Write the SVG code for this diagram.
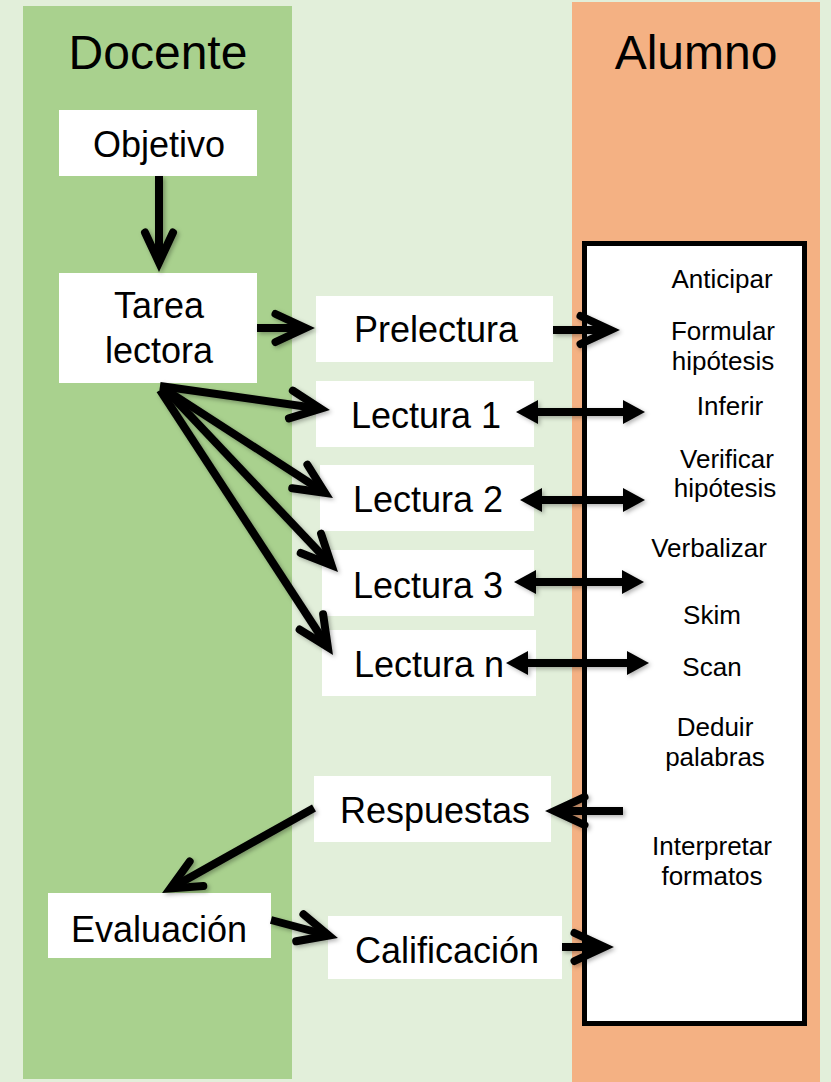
<svg xmlns="http://www.w3.org/2000/svg" width="831" height="1082" viewBox="0 0 831 1082">
<style>
text{font-family:"Liberation Sans",Arial,sans-serif;fill:#000}
.t36{font-size:36px}
.t48{font-size:48px}
.t26{font-size:26px}
.mid{text-anchor:middle}
.node{fill:#fff}
.ln{stroke:#000;stroke-width:8;fill:none}
.ch{marker-end:url(#chev)}
.dbl{marker-start:url(#tri);marker-end:url(#tri)}
</style>
<defs>
<marker id="chev" markerUnits="userSpaceOnUse" orient="auto" refX="0" refY="0" markerWidth="80" markerHeight="80" overflow="visible">
<path d="M-30,-14 L0,0 L-30,14" fill="none" stroke="#000" stroke-width="8" stroke-linejoin="miter" stroke-linecap="round"/>
</marker>
<marker id="tri" markerUnits="userSpaceOnUse" orient="auto-start-reverse" refX="0" refY="0" markerWidth="80" markerHeight="80" overflow="visible">
<path d="M22,0 L0,-12 L0,12 Z" fill="#000"/>
</marker>
<filter id="sh" x="-20%" y="-20%" width="140%" height="140%">
<feDropShadow dx="2" dy="2" stdDeviation="2" flood-color="#000" flood-opacity="0.3"/>
</filter>
</defs>
<rect x="0" y="0" width="831" height="1082" fill="#E2EFDA"/>
<g id="docente-col">
<rect x="23" y="6" width="269" height="1073" fill="#A9D18E"/>
<text class="t48 mid" x="158" y="69">Docente</text>
</g>
<g id="alumno-col">
<rect x="572" y="2" width="248" height="1080" fill="#F4B183"/>
<text class="t48 mid" x="696" y="69">Alumno</text>
</g>
<g id="estrategias">
<rect x="584.5" y="243.5" width="220" height="780" fill="#fff" stroke="#000" stroke-width="5"/>
<text class="t26 mid" x="722" y="288">Anticipar</text>
<text class="t26 mid" x="723" y="340">Formular</text>
<text class="t26 mid" x="723" y="370">hipótesis</text>
<text class="t26 mid" x="730" y="415">Inferir</text>
<text class="t26 mid" x="727" y="468">Verificar</text>
<text class="t26 mid" x="725" y="497">hipótesis</text>
<text class="t26 mid" x="709" y="557">Verbalizar</text>
<text class="t26 mid" x="712" y="624">Skim</text>
<text class="t26 mid" x="712" y="676">Scan</text>
<text class="t26 mid" x="715" y="736">Deduir</text>
<text class="t26 mid" x="715" y="766">palabras</text>
<text class="t26 mid" x="712" y="855">Interpretar</text>
<text class="t26 mid" x="712" y="885">formatos</text>
</g>
<g id="objetivo">
<rect class="node" x="59" y="110" width="198" height="66"/>
<text class="t36 mid" x="159" y="157">Objetivo</text>
</g>
<g id="tarea">
<rect class="node" x="59" y="273" width="198" height="110"/>
<text class="t36 mid" x="159" y="318">Tarea</text>
<text class="t36 mid" x="159" y="363">lectora</text>
</g>
<g id="prelectura">
<rect class="node" x="316" y="296" width="237" height="66"/>
<text class="t36 mid" x="436" y="342">Prelectura</text>
</g>
<g id="lectura1">
<rect class="node" x="316" y="381" width="218" height="66"/>
<text class="t36" x="351" y="428">Lectura 1</text>
</g>
<g id="lectura2">
<rect class="node" x="320" y="465" width="214" height="66"/>
<text class="t36" x="353" y="512">Lectura 2</text>
</g>
<g id="lectura3">
<rect class="node" x="322" y="550" width="212" height="66"/>
<text class="t36" x="353" y="598">Lectura 3</text>
</g>
<g id="lecturan">
<rect class="node" x="322" y="630" width="214" height="66"/>
<text class="t36" x="354" y="677">Lectura n</text>
</g>
<g id="respuestas">
<rect class="node" x="314" y="776" width="237" height="66"/>
<text class="t36 mid" x="435" y="823">Respuestas</text>
</g>
<g id="evaluacion">
<rect class="node" x="48" y="893" width="223" height="65"/>
<text class="t36 mid" x="159" y="942">Evaluación</text>
</g>
<g id="calificacion">
<rect class="node" x="328" y="916" width="234" height="63"/>
<text class="t36 mid" x="447" y="963">Calificación</text>
</g>
<g id="connectors" filter="url(#sh)">
<line class="ln ch" x1="159" y1="176" x2="159" y2="262.5"/>
<line class="ln ch" x1="257" y1="328" x2="305.5" y2="328"/>
<line class="ln ch" x1="553" y1="330" x2="610.5" y2="330"/>
<line class="ln ch" x1="160" y1="386" x2="320.6" y2="408.7"/>
<line class="ln ch" x1="163" y1="388" x2="325" y2="492.8"/>
<line class="ln ch" x1="166" y1="390" x2="331.5" y2="565.1"/>
<line class="ln ch" x1="160" y1="390" x2="327.8" y2="647"/>
<line class="ln dbl" x1="538" y1="412" x2="623" y2="412"/>
<line class="ln dbl" x1="542" y1="500" x2="623" y2="500"/>
<line class="ln dbl" x1="536" y1="582" x2="622" y2="582"/>
<line class="ln dbl" x1="528" y1="663" x2="627" y2="663"/>
<line class="ln ch" x1="623" y1="811" x2="554.5" y2="811"/>
<line class="ln ch" x1="314" y1="808" x2="170.3" y2="888.4"/>
<line class="ln ch" x1="271" y1="920" x2="328.8" y2="935.5"/>
<line class="ln ch" x1="562" y1="947" x2="604.5" y2="947"/>
</g>
</svg>
